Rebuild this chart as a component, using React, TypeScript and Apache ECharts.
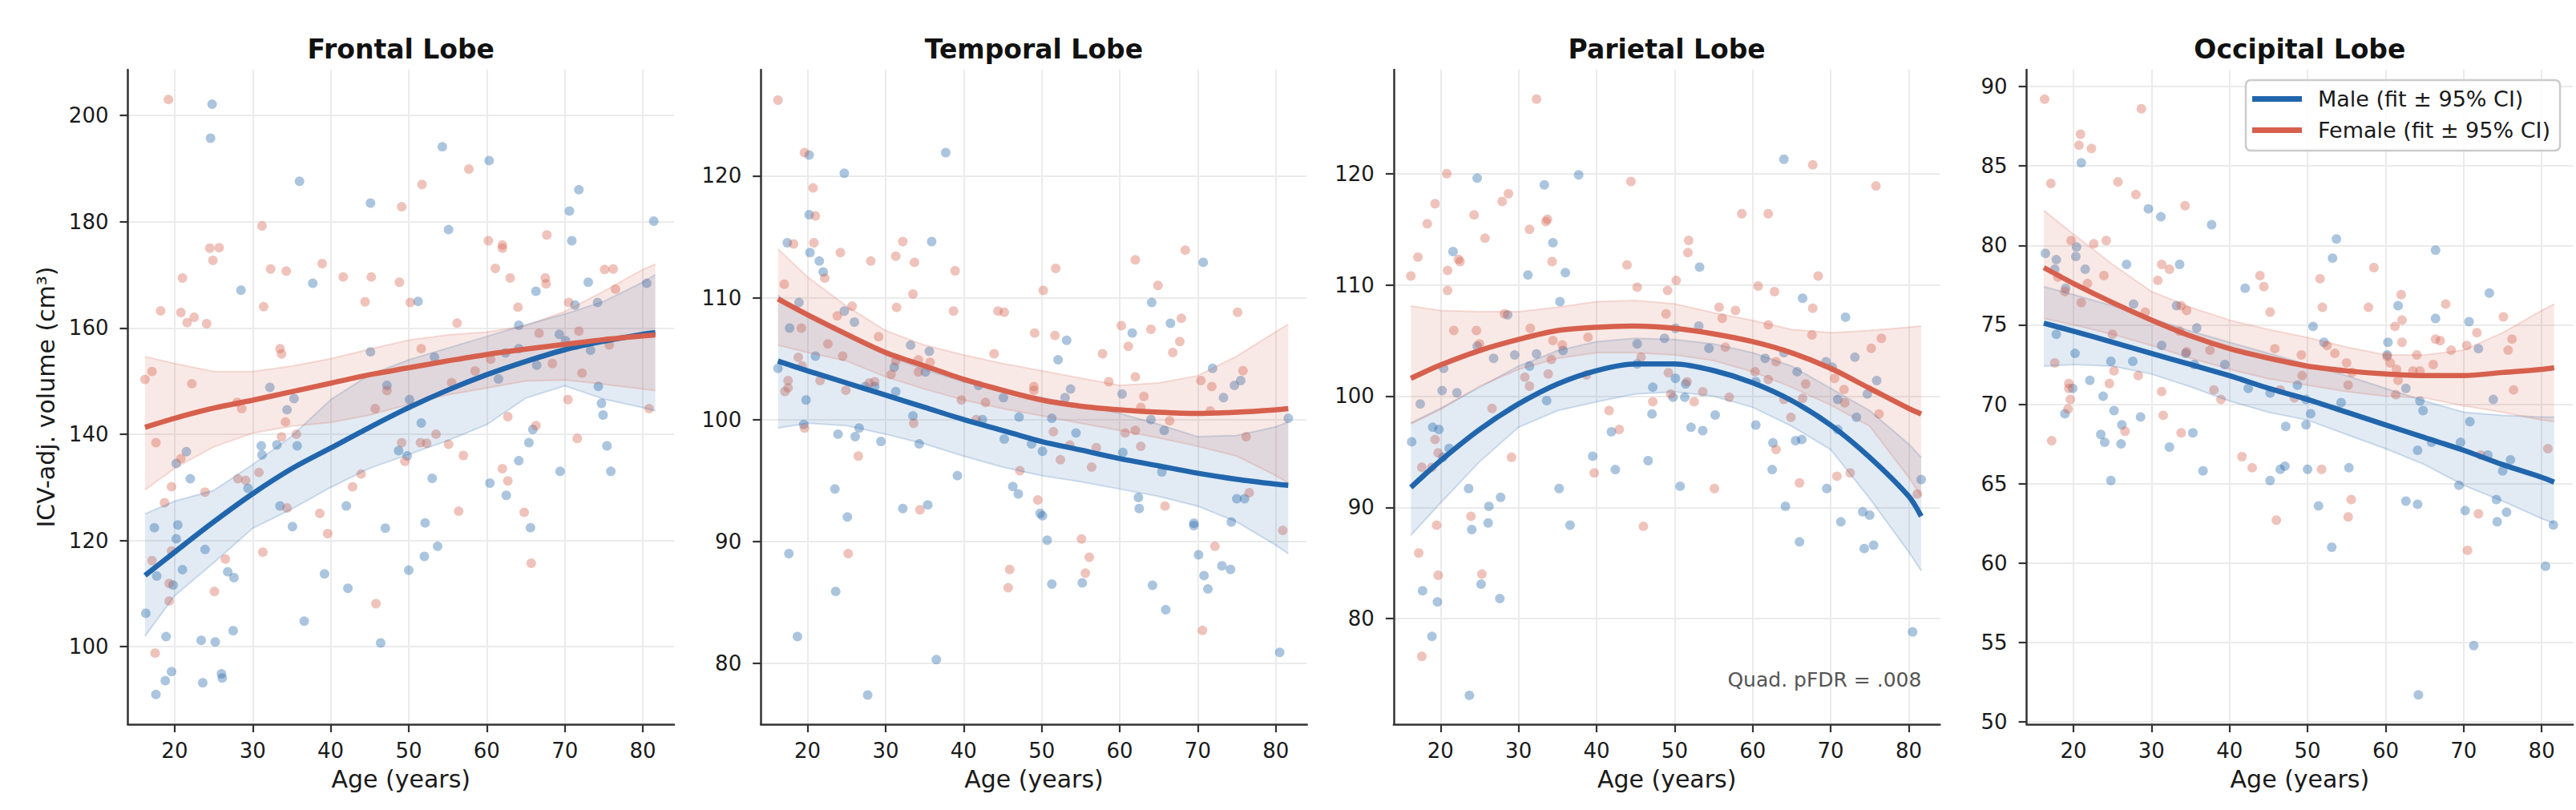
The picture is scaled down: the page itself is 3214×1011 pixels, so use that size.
import React, { useEffect, useRef } from 'react';
import * as echarts from 'echarts';

const FONT = "'DejaVu Sans', sans-serif";
const MALE_COLOR = '#2166ac';
const FEMALE_COLOR = '#d6604d';
const MALE_BAND = 'rgba(33,102,172,0.13)';
const FEMALE_BAND = 'rgba(214,96,77,0.14)';
const MALE_EDGE = 'rgba(33,102,172,0.2)';
const FEMALE_EDGE = 'rgba(214,96,77,0.2)';
const MALE_NAME = 'Male (fit ± 95% CI)';
const FEMALE_NAME = 'Female (fit ± 95% CI)';

const panelTitles = ['Frontal Lobe', 'Temporal Lobe', 'Parietal Lobe', 'Occipital Lobe'];
const ageTicks = [20, 30, 40, 50, 60, 70, 80];
const frontalTicks = [100, 120, 140, 160, 180, 200];
const temporalTicks = [80, 90, 100, 110, 120];
const parietalTicks = [80, 90, 100, 110, 120];
const occipitalTicks = [50, 55, 60, 65, 70, 75, 80, 85, 90];
const ageRange = [14, 84];
const frontalRange = [85.4, 208.6];
const temporalRange = [75.0, 128.7];
const parietalRange = [70.5, 129.35];
const occipitalRange = [49.85, 91.06];
const annotationText = 'Quad. pFDR = .008';

const fitAges = [16.2, 20, 25, 30, 35, 40, 45, 50, 55, 60, 65, 70, 75, 80, 81.6];

// ---------- Frontal ----------
const frontalMale = [
  [24.8, 202.1], [24.6, 195.7], [36.0, 187.6], [54.3, 194.1], [60.3, 191.5], [45.1, 183.5], [71.8, 186.0], [70.6, 182.0],
  [55.1, 178.5], [70.9, 176.4], [81.4, 180.1], [28.5, 167.1], [37.7, 168.4], [51.2, 165.0], [73.0, 168.6], [66.3, 166.9],
  [71.3, 164.3], [74.2, 164.8], [80.5, 168.4], [64.1, 160.5], [45.1, 155.5], [53.3, 154.5], [62.4, 155.3], [64.1, 156.1],
  [69.3, 158.8], [70.1, 157.6], [73.3, 155.8], [66.4, 153.0], [61.5, 150.4], [32.2, 148.8], [47.2, 149.2], [50.1, 146.5],
  [74.3, 149.0], [74.7, 145.8], [35.3, 146.7], [34.4, 144.6], [74.9, 143.6], [51.6, 142.1], [65.9, 140.9], [21.5, 136.7],
  [20.2, 134.5], [22.0, 131.6], [31.1, 137.8], [31.2, 136.1], [33.1, 138.0], [35.7, 137.8], [29.4, 129.8], [48.7, 136.9],
  [49.8, 135.9], [53.0, 131.7], [64.1, 135.0], [65.4, 138.4], [60.4, 130.8], [62.5, 128.5], [69.4, 133.0], [75.9, 133.0],
  [75.4, 137.8], [33.5, 126.5], [42.0, 126.5], [17.4, 122.4], [20.4, 122.9], [20.2, 120.3], [23.9, 118.3], [35.1, 122.6],
  [47.0, 122.3], [52.1, 123.3], [65.6, 122.4], [53.7, 118.9], [52.0, 117.0], [50.0, 114.4], [21.0, 114.5], [17.7, 113.3],
  [19.8, 111.6], [26.8, 114.1], [27.6, 113.0], [39.2, 113.7], [42.2, 111.0], [16.3, 106.3], [36.6, 104.8], [27.5, 103.0],
  [18.9, 101.9], [23.4, 101.2], [25.2, 100.9], [46.4, 100.7], [19.6, 95.3], [18.8, 93.6], [23.6, 93.2], [26.0, 94.9],
  [26.1, 94.1], [17.6, 91.0],
];
const frontalFemale = [
  [19.2, 203.0], [31.2, 179.2], [24.5, 175.0], [25.7, 175.1], [24.9, 172.7], [32.3, 171.1], [34.3, 170.7], [38.9, 172.1],
  [21.0, 169.4], [41.6, 169.6], [45.2, 169.6], [48.8, 168.6], [49.1, 182.8], [51.7, 187.0], [57.7, 189.9], [60.2, 176.4],
  [62.0, 175.6], [62.0, 175.0], [61.1, 171.2], [63.0, 169.4], [67.7, 177.5], [67.5, 169.4], [67.6, 168.3], [75.1, 171.0],
  [76.2, 171.1], [76.5, 167.3], [18.2, 163.2], [20.8, 162.9], [21.6, 161.0], [22.5, 162.0], [24.1, 160.8], [31.4, 164.0],
  [44.4, 164.9], [50.2, 164.8], [56.2, 160.9], [64.0, 163.9], [70.5, 164.8], [71.8, 159.4], [66.7, 159.0], [33.5, 156.1],
  [33.7, 155.1], [51.6, 156.1], [16.2, 150.3], [17.1, 151.8], [22.2, 149.5], [58.5, 151.9], [55.5, 149.7], [60.5, 154.1],
  [68.4, 153.3], [72.2, 151.5], [75.7, 156.8], [70.4, 146.5], [80.8, 144.8], [47.2, 148.2], [28.0, 146.0], [28.6, 144.8],
  [45.7, 144.8], [62.7, 143.3], [66.3, 141.6], [17.6, 138.4], [34.2, 142.3], [35.6, 140.0], [33.7, 139.5], [20.8, 135.4],
  [30.8, 132.8], [28.1, 131.6], [29.1, 131.3], [19.6, 130.1], [23.9, 129.1], [18.7, 127.1], [34.4, 126.1], [43.9, 132.5],
  [42.8, 130.1], [49.1, 138.4], [49.5, 134.9], [51.5, 138.4], [52.3, 138.3], [53.5, 140.0], [55.1, 138.1], [57.0, 136.0],
  [62.0, 133.5], [62.7, 131.2], [71.6, 139.2], [56.4, 125.5], [64.8, 125.3], [65.7, 115.7], [38.6, 125.1], [39.6, 121.3],
  [31.3, 117.8], [26.5, 116.5], [17.1, 116.2], [19.6, 118.0], [19.3, 111.9], [25.1, 110.4], [19.3, 108.6], [45.8, 108.1],
  [17.5, 98.8],
];
const frontalMaleFit = [113.4, 117.8, 123.5, 128.8, 133.5, 137.4, 141.3, 145.0, 148.3, 151.2, 153.7, 155.9, 157.5, 158.8, 159.1];
const frontalMaleLo = [102.0, 109.6, 115.8, 122.3, 125.9, 130.0, 133.6, 136.2, 138.8, 141.8, 146.8, 149.1, 146.6, 145.0, 144.4];
const frontalMaleHi = [125.0, 127.4, 129.4, 134.3, 139.6, 146.5, 151.2, 154.0, 156.2, 158.4, 160.6, 162.6, 165.0, 168.6, 170.0];
const frontalFemaleFit = [141.3, 143.0, 144.9, 146.4, 148.0, 149.6, 151.2, 152.5, 153.8, 155.0, 156.0, 156.9, 157.8, 158.5, 158.7];
const frontalFemaleLo = [129.5, 133.6, 137.6, 140.2, 141.5, 142.2, 143.6, 145.6, 147.4, 148.7, 150.0, 150.2, 149.4, 148.5, 148.2];
const frontalFemaleHi = [154.6, 153.3, 151.8, 151.8, 152.8, 154.2, 156.0, 157.7, 158.7, 159.2, 160.4, 163.1, 166.9, 171.0, 172.0];

// ---------- Temporal ----------
const temporalMale = [
  [20.2, 121.7], [24.7, 120.2], [37.7, 121.9], [20.2, 116.8], [17.4, 114.5], [20.3, 113.7], [21.5, 113.0], [22.0, 112.1],
  [35.9, 114.6], [70.7, 112.9], [18.9, 109.6], [24.7, 108.9], [26.0, 108.0], [17.7, 107.5], [21.0, 105.2], [33.2, 106.1],
  [35.6, 105.6], [35.1, 103.9], [31.1, 104.3], [16.2, 104.2], [27.4, 102.7], [28.6, 102.7], [31.3, 102.3], [19.8, 101.6],
  [53.2, 106.5], [52.1, 104.9], [64.1, 109.6], [61.6, 107.1], [66.5, 107.9], [71.9, 104.2], [75.5, 103.2], [74.7, 102.8],
  [73.3, 101.8], [60.3, 102.1], [53.7, 102.5], [53.0, 101.8], [41.9, 102.8], [45.1, 101.8], [33.5, 100.3], [42.4, 100.0],
  [47.1, 100.2], [51.3, 100.1], [64.0, 100.0], [81.6, 100.1], [65.7, 99.1], [26.6, 99.3], [19.5, 99.6], [23.9, 98.8],
  [26.1, 98.6], [29.4, 98.2], [34.3, 98.0], [45.2, 98.4], [48.7, 98.0], [50.1, 97.4], [54.4, 98.9], [60.4, 97.3],
  [65.4, 95.7], [39.2, 95.4], [46.3, 94.5], [47.0, 93.9], [23.5, 94.3], [62.4, 93.6], [62.5, 92.7], [75.0, 93.5],
  [76.0, 93.5], [32.2, 92.7], [35.4, 93.0], [49.8, 92.3], [50.1, 92.1], [25.1, 92.0], [69.5, 91.5], [69.5, 91.3],
  [74.3, 91.6], [50.7, 90.1], [17.6, 89.0], [70.1, 88.9], [70.8, 87.2], [71.3, 86.1], [73.1, 88.0], [74.2, 87.7],
  [23.6, 85.9], [51.3, 86.5], [55.2, 86.6], [64.2, 86.4], [65.9, 84.4], [18.7, 82.2], [36.5, 80.3], [80.5, 80.9],
  [27.7, 77.4],
];
const temporalFemale = [
  [16.2, 126.2], [19.6, 121.9], [20.7, 119.0], [21.0, 116.7], [20.8, 114.5], [18.2, 114.4], [17.0, 111.1], [24.2, 113.7],
  [28.1, 113.0], [31.3, 113.4], [32.2, 114.6], [33.7, 112.9], [38.9, 112.2], [33.5, 110.3], [31.4, 109.2], [38.7, 108.9],
  [25.7, 109.3], [23.8, 108.5], [22.2, 111.6], [19.2, 107.5], [22.6, 106.2], [29.1, 106.8], [24.5, 105.2], [18.8, 105.1],
  [19.3, 104.4], [17.5, 103.2], [17.5, 102.6], [17.1, 102.3], [21.6, 103.2], [24.9, 102.4], [27.9, 103.0], [28.6, 103.1],
  [30.7, 103.7], [31.3, 104.8], [34.2, 104.9], [34.2, 103.9], [35.7, 104.7], [39.7, 101.6], [42.8, 101.4], [41.6, 100.0],
  [43.9, 105.4], [44.4, 108.9], [45.2, 108.8], [49.1, 107.1], [50.2, 110.6], [51.8, 112.4], [51.7, 106.9], [49.0, 102.7],
  [49.0, 102.4], [57.8, 105.4], [58.6, 103.1], [60.2, 107.7], [61.1, 106.0], [62.0, 113.1], [62.0, 103.5], [63.1, 101.9],
  [64.0, 107.4], [64.9, 111.0], [66.8, 105.5], [67.7, 106.4], [67.9, 108.3], [68.4, 113.9], [70.4, 103.2], [71.8, 102.7],
  [75.8, 104.0], [75.1, 108.8], [62.7, 101.0], [71.6, 100.7], [66.4, 99.9], [19.6, 99.3], [33.6, 99.7], [26.5, 97.0],
  [51.5, 99.0], [52.4, 96.7], [53.6, 97.9], [57.0, 97.7], [56.4, 96.1], [60.7, 98.9], [62.0, 99.1], [62.7, 97.8],
  [76.2, 98.6], [76.6, 94.0], [47.2, 95.8], [49.5, 93.4], [34.4, 92.6], [65.8, 92.9], [80.9, 90.9], [55.1, 90.2],
  [25.2, 89.0], [56.1, 88.7], [72.2, 89.6], [45.9, 87.7], [55.6, 87.4], [45.7, 86.2], [70.6, 82.7],
];
const temporalMaleFit = [104.8, 104.0, 103.0, 102.0, 101.0, 100.0, 99.1, 98.2, 97.5, 96.8, 96.2, 95.6, 95.1, 94.7, 94.6];
const temporalMaleLo = [99.3, 99.7, 99.5, 98.8, 98.0, 97.0, 96.1, 95.4, 94.9, 94.3, 93.7, 92.9, 91.6, 89.7, 89.0];
const temporalMaleHi = [110.2, 108.4, 106.8, 105.3, 104.1, 103.1, 102.4, 101.8, 101.2, 100.5, 99.6, 98.6, 98.7, 99.4, 99.8];
const temporalFemaleFit = [109.9, 108.6, 107.0, 105.5, 104.4, 103.3, 102.4, 101.6, 101.1, 100.8, 100.6, 100.5, 100.6, 100.8, 100.9];
const temporalFemaleLo = [106.1, 105.5, 104.8, 103.5, 102.5, 101.6, 100.9, 100.3, 99.7, 99.1, 98.5, 97.8, 97.0, 95.4, 94.8];
const temporalFemaleHi = [114.0, 111.7, 109.3, 107.3, 106.1, 105.3, 104.6, 104.0, 103.4, 102.8, 103.0, 103.6, 105.2, 107.2, 107.8];

// ---------- Parietal ----------
const parietalMale = [
  [64.0, 121.3], [24.7, 119.6], [37.7, 119.9], [33.3, 119.0], [34.4, 113.8], [21.6, 113.0], [53.2, 111.6], [31.2, 110.9],
  [36.0, 111.1], [66.4, 108.8], [35.3, 108.5], [28.6, 107.3], [71.9, 107.1], [53.1, 106.3], [50.1, 106.1], [48.7, 105.2],
  [45.2, 104.7], [24.7, 104.5], [35.7, 104.1], [54.4, 104.3], [64.0, 103.9], [26.8, 103.4], [29.5, 103.7], [32.3, 103.8],
  [61.6, 103.4], [73.1, 103.5], [31.4, 102.7], [45.2, 102.9], [20.4, 102.5], [69.4, 103.1], [70.2, 102.6], [65.7, 102.2],
  [60.4, 101.3], [50.1, 101.6], [51.4, 101.1], [47.2, 100.8], [75.9, 101.4], [20.2, 100.5], [22.1, 100.3], [33.6, 99.6],
  [49.8, 99.9], [51.3, 99.9], [70.9, 99.7], [74.7, 100.2], [17.4, 99.3], [47.1, 98.4], [55.2, 98.3], [73.3, 98.1],
  [60.4, 97.4], [19.0, 97.2], [19.8, 97.0], [52.1, 97.2], [53.6, 96.9], [70.9, 97.0], [41.9, 96.8], [16.3, 95.9],
  [21.1, 95.3], [20.3, 94.5], [62.6, 95.8], [65.5, 96.0], [66.3, 96.1], [39.5, 94.6], [46.6, 94.2], [42.4, 93.4],
  [62.5, 93.4], [81.6, 92.5], [23.6, 91.7], [35.2, 91.7], [50.7, 91.9], [69.5, 91.7], [27.7, 90.9], [26.2, 90.1],
  [64.2, 90.1], [24.0, 88.0], [26.1, 88.6], [36.6, 88.4], [71.3, 88.7], [74.1, 89.6], [75.0, 89.3], [66.0, 86.9],
  [74.3, 86.3], [75.5, 86.6], [17.7, 82.5], [25.2, 83.1], [19.6, 81.5], [27.6, 81.8], [18.9, 78.4], [80.5, 78.8],
  [23.7, 73.1],
];
const parietalFemale = [
  [32.3, 126.7], [20.8, 120.0], [44.4, 119.3], [67.7, 120.8], [75.8, 118.9], [19.3, 117.3], [28.7, 118.2], [27.9, 117.5],
  [24.3, 116.3], [18.3, 115.5], [33.7, 115.9], [33.5, 115.7], [31.4, 115.0], [25.7, 114.2], [58.6, 116.4], [62.0, 116.4],
  [51.8, 114.0], [51.7, 112.9], [17.1, 112.5], [22.3, 112.3], [22.5, 112.1], [20.9, 111.3], [16.2, 110.8], [34.3, 112.1],
  [43.9, 111.8], [68.4, 110.8], [20.9, 109.5], [45.2, 109.8], [49.1, 109.5], [50.2, 110.4], [60.7, 109.9], [62.8, 109.4],
  [28.2, 107.4], [48.9, 107.4], [55.7, 108.0], [56.1, 107.0], [57.8, 107.7], [67.7, 107.9], [21.7, 105.9], [24.6, 105.9],
  [31.5, 106.1], [38.9, 105.3], [34.4, 105.0], [25.0, 104.7], [35.6, 104.6], [62.0, 106.4], [67.6, 105.5], [76.5, 105.2],
  [75.2, 104.3], [56.5, 104.4], [45.7, 103.5], [34.2, 103.3], [63.0, 103.1], [30.8, 101.7], [31.4, 100.9], [33.8, 102.0],
  [38.7, 101.9], [49.2, 102.1], [60.3, 102.2], [62.0, 101.5], [51.6, 101.3], [66.8, 101.1], [70.5, 101.6], [71.7, 100.6],
  [53.6, 100.4], [49.5, 100.2], [57.0, 99.9], [66.4, 99.8], [71.8, 99.4], [52.5, 99.5], [47.2, 99.5], [64.0, 99.7],
  [26.6, 98.9], [41.6, 98.7], [76.2, 98.4], [64.9, 98.1], [42.9, 97.0], [19.3, 96.1], [19.7, 94.9], [17.6, 93.6],
  [18.9, 93.6], [29.1, 94.5], [39.7, 93.1], [63.0, 95.2], [66.0, 92.2], [70.8, 92.8], [72.5, 93.1], [81.1, 91.2],
  [55.1, 91.7], [23.9, 89.2], [19.5, 88.4], [46.0, 88.3], [17.2, 85.9], [19.7, 83.9], [25.3, 84.0], [17.6, 76.6],
];
const parietalMaleFit = [91.8, 94.2, 97.0, 99.3, 101.1, 102.3, 102.9, 102.9, 102.3, 101.2, 99.6, 97.4, 94.5, 91.0, 89.2];
const parietalMaleLo = [87.5, 90.4, 94.1, 97.2, 98.7, 99.5, 100.2, 100.4, 100.0, 99.0, 97.3, 95.2, 90.8, 86.0, 84.3];
const parietalMaleHi = [97.6, 98.9, 100.8, 102.7, 104.1, 104.9, 105.2, 105.1, 104.7, 103.9, 102.7, 100.7, 98.7, 95.7, 94.5];
const parietalFemaleFit = [101.6, 102.8, 104.1, 105.1, 105.9, 106.2, 106.3, 106.1, 105.6, 104.9, 103.9, 102.5, 100.7, 98.9, 98.4];
const parietalFemaleLo = [97.5, 98.8, 100.9, 102.4, 103.4, 103.9, 103.9, 103.7, 103.2, 102.2, 100.8, 99.2, 97.3, 92.7, 91.0];
const parietalFemaleHi = [108.1, 107.7, 107.6, 107.6, 108.0, 108.5, 108.6, 108.3, 107.5, 106.8, 106.0, 105.7, 105.9, 106.2, 106.3];

// ---------- Occipital ----------
const occipitalMale = [
  [21.0, 85.2], [29.6, 82.3], [31.2, 81.8], [37.7, 81.3], [53.7, 80.4], [53.2, 79.2], [66.4, 79.7], [16.4, 79.5],
  [17.8, 79.1], [20.4, 79.9], [20.3, 79.3], [26.8, 78.8], [33.6, 78.8], [21.5, 78.5], [17.6, 78.5], [19.0, 77.3],
  [42.0, 77.3], [27.7, 76.3], [33.2, 76.2], [61.6, 76.2], [73.3, 77.0], [35.8, 74.8], [31.3, 73.7], [17.8, 74.4],
  [50.7, 74.9], [66.4, 75.4], [70.7, 75.2], [52.1, 73.9], [60.3, 73.9], [71.9, 73.5], [20.2, 73.2], [34.4, 73.2],
  [60.2, 73.1], [24.8, 72.7], [27.6, 72.7], [35.5, 72.5], [39.4, 72.5], [22.1, 71.5], [19.9, 71.0], [42.4, 71.0],
  [45.2, 70.7], [48.7, 71.2], [62.6, 71.0], [23.8, 70.5], [49.8, 70.3], [54.3, 70.1], [64.4, 70.2], [73.8, 70.3],
  [18.9, 69.4], [25.2, 69.6], [28.6, 69.2], [50.4, 69.4], [64.8, 69.6], [70.8, 68.9], [23.5, 68.1], [24.0, 67.6],
  [26.1, 67.5], [26.2, 68.7], [35.3, 68.2], [32.3, 67.3], [36.6, 65.8], [24.8, 65.2], [47.2, 68.6], [49.8, 68.7],
  [46.5, 65.9], [47.1, 66.1], [45.2, 65.2], [50.0, 65.9], [55.3, 66.0], [51.4, 63.6], [53.1, 61.0], [64.1, 67.1],
  [65.9, 67.6], [69.6, 67.6], [73.1, 66.8], [76.0, 66.5], [75.0, 65.8], [69.4, 64.9], [62.6, 63.9], [64.1, 63.7],
  [74.2, 64.0], [70.2, 63.3], [75.5, 63.2], [74.3, 62.6], [81.5, 62.4], [80.5, 59.8], [71.3, 54.8], [64.2, 51.7],
];
const occipitalFemale = [
  [16.3, 89.2], [28.7, 88.6], [17.1, 83.9], [20.9, 87.0], [20.7, 86.3], [22.3, 86.1], [25.7, 84.0], [28.0, 83.2],
  [34.3, 82.5], [19.7, 80.3], [22.6, 80.1], [24.2, 80.3], [31.3, 78.8], [32.3, 78.5], [30.8, 77.8], [23.9, 78.1],
  [21.8, 77.6], [18.0, 78.0], [18.9, 77.1], [21.0, 76.4], [33.8, 76.2], [34.5, 75.9], [29.2, 75.8], [43.9, 78.1],
  [44.4, 77.4], [58.5, 78.6], [51.6, 77.9], [51.9, 76.1], [57.8, 76.1], [45.2, 75.8], [62.0, 76.9], [67.7, 76.3],
  [61.2, 74.9], [62.1, 75.3], [75.1, 75.5], [25.0, 74.4], [33.6, 74.6], [37.5, 73.4], [34.5, 73.3], [45.8, 73.5],
  [71.7, 74.5], [66.4, 74.1], [67.0, 74.0], [76.2, 74.1], [68.4, 73.4], [70.4, 73.7], [75.7, 73.4], [62.1, 73.9],
  [52.5, 73.7], [53.5, 73.2], [49.2, 73.1], [64.0, 73.1], [60.2, 73.0], [60.6, 72.6], [17.6, 72.6], [55.0, 72.6],
  [55.7, 72.0], [61.4, 72.2], [63.5, 72.1], [64.4, 72.1], [66.1, 72.5], [61.6, 71.5], [25.2, 72.1], [28.3, 71.8],
  [24.6, 71.3], [19.4, 71.3], [19.4, 71.0], [49.3, 71.8], [55.2, 71.2], [38.0, 70.9], [61.3, 70.6], [76.4, 70.9],
  [46.5, 70.9], [48.3, 70.4], [19.6, 70.3], [19.3, 69.7], [31.3, 70.8], [38.9, 70.3], [31.5, 69.3], [17.2, 67.7],
  [26.6, 68.3], [33.8, 68.2], [41.6, 66.7], [42.9, 66.0], [51.8, 65.9], [55.6, 64.0], [55.2, 62.9], [46.0, 62.7],
  [72.2, 66.8], [71.9, 63.1], [70.5, 60.8], [80.8, 67.2],
];
const occipitalMaleFit = [75.1, 74.6, 73.9, 73.2, 72.5, 71.8, 71.0, 70.3, 69.5, 68.7, 67.9, 67.1, 66.2, 65.4, 65.1];
const occipitalMaleLo = [72.4, 72.5, 72.4, 71.9, 71.1, 70.2, 69.5, 69.0, 68.1, 67.2, 66.2, 64.9, 63.9, 62.8, 62.5];
const occipitalMaleHi = [77.4, 76.9, 76.2, 75.4, 74.6, 73.9, 73.2, 72.5, 71.8, 71.0, 70.2, 69.5, 69.3, 69.2, 69.2];
const occipitalFemaleFit = [78.6, 77.6, 76.4, 75.3, 74.3, 73.5, 72.9, 72.4, 72.1, 71.9, 71.8, 71.8, 72.0, 72.2, 72.3];
const occipitalFemaleLo = [75.4, 75.0, 74.4, 73.7, 72.9, 72.2, 71.6, 71.2, 70.8, 70.5, 70.4, 69.9, 69.5, 69.0, 68.9];
const occipitalFemaleHi = [82.2, 80.7, 78.8, 77.1, 76.1, 75.3, 74.7, 74.2, 73.6, 73.1, 73.1, 73.4, 74.5, 75.9, 76.3];

const panels = [
  {
    title: panelTitles[0], ticks: frontalTicks, range: frontalRange, male: frontalMale, female: frontalFemale,
    mFit: frontalMaleFit, mLo: frontalMaleLo, mHi: frontalMaleHi, fFit: frontalFemaleFit, fLo: frontalFemaleLo, fHi: frontalFemaleHi,
  },
  {
    title: panelTitles[1], ticks: temporalTicks, range: temporalRange, male: temporalMale, female: temporalFemale,
    mFit: temporalMaleFit, mLo: temporalMaleLo, mHi: temporalMaleHi, fFit: temporalFemaleFit, fLo: temporalFemaleLo, fHi: temporalFemaleHi,
  },
  {
    title: panelTitles[2], ticks: parietalTicks, range: parietalRange, male: parietalMale, female: parietalFemale,
    mFit: parietalMaleFit, mLo: parietalMaleLo, mHi: parietalMaleHi, fFit: parietalFemaleFit, fLo: parietalFemaleLo, fHi: parietalFemaleHi,
  },
  {
    title: panelTitles[3], ticks: occipitalTicks, range: occipitalRange, male: occipitalMale, female: occipitalFemale,
    mFit: occipitalMaleFit, mLo: occipitalMaleLo, mHi: occipitalMaleHi, fFit: occipitalFemaleFit, fLo: occipitalFemaleLo, fHi: occipitalFemaleHi,
  },
];

const GRID_LEFT0 = 159.5;
const GRID_STEP = 789.7;
const GRID_TOP = 87;
const GRID_W = 681.5;
const GRID_H = 817;

function bandSeries(i: number, lo: number[], hi: number[], fill: string, edge: string, key: string) {
  return {
    type: 'custom', name: `${key} band ${i}`, xAxisIndex: i, yAxisIndex: i, silent: true, z: 3,
    data: fitAges.map((a, k) => [a, lo[k], hi[k]]),
    encode: { x: 0, y: [1, 2] },
    renderItem: (params: any, api: any) => {
      if (params.dataIndex !== 0) return null;
      const up = fitAges.map((a, k) => api.coord([a, hi[k]]));
      const dn = fitAges.map((a, k) => api.coord([a, lo[k]]));
      const poly = up.concat(dn.slice().reverse());
      return {
        type: 'group',
        children: [
          { type: 'polygon', shape: { points: poly }, style: { fill, stroke: 'none' } },
          { type: 'polyline', shape: { points: up }, style: { fill: 'none', stroke: edge, lineWidth: 2 } },
          { type: 'polyline', shape: { points: dn }, style: { fill: 'none', stroke: edge, lineWidth: 2 } },
        ],
      };
    },
  };
}

function buildOption() {
  const grid: any[] = [];
  const xAxis: any[] = [];
  const yAxis: any[] = [];
  const series: any[] = [];
  const graphic: any[] = [];

  panels.forEach((p, i) => {
    const left = GRID_LEFT0 + GRID_STEP * i;
    grid.push({ left, top: GRID_TOP, width: GRID_W, height: GRID_H });
    xAxis.push({
      type: 'value', gridIndex: i, min: ageRange[0], max: ageRange[1],
      axisLine: { show: true, lineStyle: { color: '#333333', width: 2.5 } },
      axisTick: { show: true, length: 10, lineStyle: { color: '#333333', width: 2.2 }, customValues: ageTicks },
      axisLabel: { customValues: ageTicks, fontSize: 26, color: '#1a1a1a', fontFamily: FONT, margin: 20 },
      splitLine: { show: true, lineStyle: { color: '#ebebeb', width: 2 } },
      name: 'Age (years)', nameLocation: 'middle', nameGap: 53,
      nameTextStyle: { fontSize: 30, color: '#1a1a1a', fontFamily: FONT },
    });
    yAxis.push({
      type: 'value', gridIndex: i, min: p.range[0], max: p.range[1],
      axisLine: { show: true, lineStyle: { color: '#333333', width: 2.5 } },
      axisTick: { show: true, length: 10, lineStyle: { color: '#333333', width: 2.2 }, customValues: p.ticks },
      axisLabel: { customValues: p.ticks, fontSize: 26, color: '#1a1a1a', fontFamily: FONT, margin: 24 },
      splitLine: { show: true, lineStyle: { color: '#ebebeb', width: 2 } },
      ...(i === 0
        ? {
            name: 'ICV-adj. volume (cm³)', nameLocation: 'middle', nameGap: 87,
            nameTextStyle: { fontSize: 30, color: '#1a1a1a', fontFamily: FONT },
          }
        : {}),
    });

    series.push({
      type: 'scatter', name: `male points ${i}`, xAxisIndex: i, yAxisIndex: i, data: p.male,
      symbolSize: 12, itemStyle: { color: MALE_COLOR, opacity: 0.38 }, z: 2, silent: true,
    });
    series.push({
      type: 'scatter', name: `female points ${i}`, xAxisIndex: i, yAxisIndex: i, data: p.female,
      symbolSize: 12, itemStyle: { color: FEMALE_COLOR, opacity: 0.38 }, z: 2, silent: true,
    });
    series.push(bandSeries(i, p.mLo, p.mHi, MALE_BAND, MALE_EDGE, 'male'));
    series.push(bandSeries(i, p.fLo, p.fHi, FEMALE_BAND, FEMALE_EDGE, 'female'));
    series.push({
      type: 'line', name: MALE_NAME, xAxisIndex: i, yAxisIndex: i, data: fitAges.map((a, k) => [a, p.mFit[k]]),
      symbol: 'none', smooth: 0.3, color: MALE_COLOR, itemStyle: { color: MALE_COLOR },
      lineStyle: { color: MALE_COLOR, width: 6.5 }, z: 5, silent: true,
    });
    series.push({
      type: 'line', name: FEMALE_NAME, xAxisIndex: i, yAxisIndex: i, data: fitAges.map((a, k) => [a, p.fFit[k]]),
      symbol: 'none', smooth: 0.3, color: FEMALE_COLOR, itemStyle: { color: FEMALE_COLOR },
      lineStyle: { color: FEMALE_COLOR, width: 6.5 }, z: 5, silent: true,
    });

    graphic.push({
      type: 'text', x: left + GRID_W / 2, y: 61, z: 10,
      style: {
        text: p.title, fontSize: 33, fontWeight: 'bold', fontFamily: FONT, fill: '#111111',
        align: 'center', verticalAlign: 'middle', textAlign: 'center', textVerticalAlign: 'middle',
      },
    });
  });

  graphic.push({
    type: 'text', x: GRID_LEFT0 + GRID_STEP * 2 + GRID_W - 23, y: 848, z: 10,
    style: {
      text: annotationText, fontSize: 25, fontFamily: FONT, fill: '#555555',
      align: 'right', verticalAlign: 'middle', textAlign: 'right', textVerticalAlign: 'middle',
    },
  });

  return {
    animation: false,
    backgroundColor: '#ffffff',
    grid,
    xAxis,
    yAxis,
    series,
    graphic,
    legend: {
      orient: 'vertical', left: 2802, top: 100,
      padding: [10, 12, 12, 8], itemWidth: 62, itemHeight: 7, itemGap: 12,
      backgroundColor: 'rgba(255,255,255,0.85)', borderColor: '#cccccc', borderWidth: 2.5, borderRadius: 6,
      itemStyle: { borderWidth: 0 },
      textStyle: { fontSize: 27, fontFamily: FONT, color: '#1a1a1a', padding: [0, 0, 0, 15] },
      data: [
        { name: MALE_NAME, icon: 'rect' },
        { name: FEMALE_NAME, icon: 'rect' },
      ],
      selectedMode: false,
    },
  };
}

export default function App() {
  const ref = useRef<HTMLDivElement>(null);
  useEffect(() => {
    if (!ref.current) return;
    const chart = echarts.init(ref.current, null, { renderer: 'svg' });
    chart.setOption(buildOption() as any);
    return () => chart.dispose();
  }, []);
  return (
    <div
      ref={ref}
      style={{ position: 'fixed', left: 0, top: 0, width: 3214, height: 1011, background: '#ffffff' }}
    />
  );
}
